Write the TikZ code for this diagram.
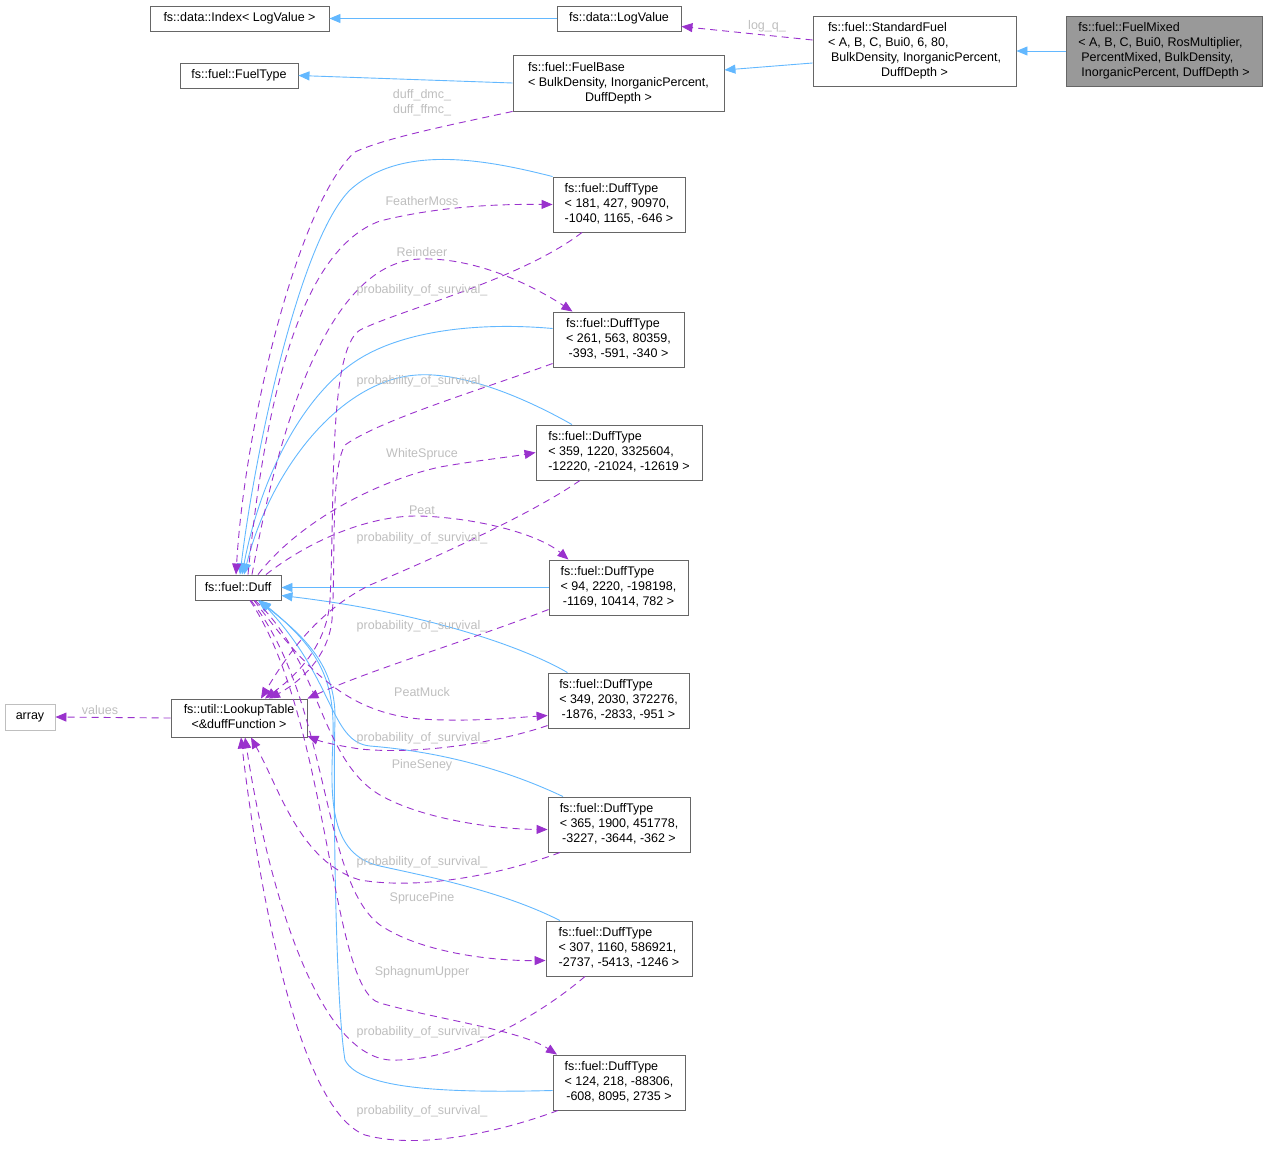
\documentclass[tikz,border=0pt]{standalone}
\usepackage{fontspec}
\setmainfont{Liberation Sans}
\usetikzlibrary{arrows.meta}
\definecolor{inhblue}{RGB}{99,184,255}
\definecolor{mempurple}{RGB}{154,50,205}
\definecolor{boxgray}{RGB}{102,102,102}
\definecolor{lblgray}{RGB}{190,190,190}
\definecolor{fillgray}{RGB}{153,153,153}
\definecolor{extgray}{RGB}{191,191,191}
\newcommand{\ctr}[1]{\multicolumn{1}{@{}c@{}}{#1}}
\tikzset{
	cls/.style = {draw = boxgray, line width = .9pt, fill = white, inner sep = 0pt, font = \fontsize{12.5}{15}\selectfont},
	ext/.style = {cls, draw = extgray},
	inh/.style = {draw = inhblue, line width = .9pt, -{Triangle[length = 11pt, width = 9pt]}},
	mem/.style = {draw = mempurple, line width = .9pt, dash pattern = on 7pt off 5pt, -{Triangle[length = 11pt, width = 9pt]}},
	lbl/.style = {text = lblgray, inner sep = 0pt, font = \fontsize{12.5}{15}\selectfont}
}
\begin{document}
\begin{tikzpicture}[x = 1pt, y = -1pt]
\useasboundingbox (0,0) rectangle (1268,1148);
	% classes
	\node [cls, fill = fillgray, minimum width = 196, minimum height = 70] (mixed) at (1164,51) {\begin{tabular}{@{}l@{}}fs::fuel::FuelMixed\\< A, B, C, Bui0, RosMultiplier,\\\hspace{3pt}PercentMixed, BulkDensity,\\\hspace{3pt}InorganicPercent, DuffDepth >\end{tabular}};
	\node [cls, minimum width = 203, minimum height = 70] (stdfuel) at (914.5,51) {\begin{tabular}{@{}l@{}}fs::fuel::StandardFuel\\< A, B, C, Bui0, 6, 80,\\\hspace{3pt}BulkDensity, InorganicPercent,\\\ctr{DuffDepth >}\end{tabular}};
	\node [cls, minimum width = 211, minimum height = 56] (fuelbase) at (618.5,83) {\begin{tabular}{@{}l@{}}fs::fuel::FuelBase\\< BulkDensity, InorganicPercent,\\\ctr{DuffDepth >}\end{tabular}};
	\node [cls, minimum width = 124, minimum height = 25] (logvalue) at (619,18.5) {fs::data::LogValue};
	\node [cls, minimum width = 179, minimum height = 25] (index) at (239.5,18.5) {fs::data::Index< LogValue >};
	\node [cls, minimum width = 118, minimum height = 25] (fueltype) at (239,75.5) {fs::fuel::FuelType};
	\node [cls, minimum width = 86, minimum height = 25] (duff) at (238,587.5) {fs::fuel::Duff};
	\node [cls, minimum width = 136, minimum height = 38] (lookup) at (239,718) {\begin{tabular}{@{}l@{}}fs::util::LookupTable\\\ctr{<\&duffFunction >}\end{tabular}};
	\node [ext, minimum width = 50, minimum height = 26] (array) at (30,717) {array};
	\node [cls, minimum width = 132, minimum height = 55] (dt1) at (619,204.5) {\begin{tabular}{@{}l@{}}fs::fuel::DuffType\\< 181, 427, 90970,\\-1040, 1165, -646 >\end{tabular}};
	\node [cls, minimum width = 131, minimum height = 55] (dt2) at (618.5,339.5) {\begin{tabular}{@{}l@{}}fs::fuel::DuffType\\< 261, 563, 80359,\\\ctr{-393, -591, -340 >}\end{tabular}};
	\node [cls, minimum width = 166, minimum height = 55] (dt3) at (619,452.5) {\begin{tabular}{@{}l@{}}fs::fuel::DuffType\\< 359, 1220, 3325604,\\\ctr{-12220, -21024, -12619 >}\end{tabular}};
	\node [cls, minimum width = 139, minimum height = 55] (dt4) at (618.5,587.5) {\begin{tabular}{@{}l@{}}fs::fuel::DuffType\\< 94, 2220, -198198,\\\ctr{-1169, 10414, 782 >}\end{tabular}};
	\node [cls, minimum width = 141, minimum height = 55] (dt5) at (618.5,700.5) {\begin{tabular}{@{}l@{}}fs::fuel::DuffType\\< 349, 2030, 372276,\\\ctr{-1876, -2833, -951 >}\end{tabular}};
	\node [cls, minimum width = 142, minimum height = 55] (dt6) at (619,824.5) {\begin{tabular}{@{}l@{}}fs::fuel::DuffType\\< 365, 1900, 451778,\\\ctr{-3227, -3644, -362 >}\end{tabular}};
	\node [cls, minimum width = 146, minimum height = 55] (dt7) at (619,948.5) {\begin{tabular}{@{}l@{}}fs::fuel::DuffType\\< 307, 1160, 586921,\\\ctr{-2737, -5413, -1246 >}\end{tabular}};
	\node [cls, minimum width = 132, minimum height = 55] (dt8) at (619,1082.5) {\begin{tabular}{@{}l@{}}fs::fuel::DuffType\\< 124, 218, -88306,\\\ctr{-608, 8095, 2735 >}\end{tabular}};
	% inheritance
	\draw [inh] (logvalue.west) -- (index.east);
	\draw [inh] (fuelbase.west) -- (fueltype.east);
	\draw [inh] ([yshift = -12pt]stdfuel.west) -- ([yshift = 13pt]fuelbase.east);
	\draw [inh] (mixed.west) -- (stdfuel.east);
	\draw [inh] (dt1.north west) .. controls (480,158) and (400,145) .. (350,190) .. controls (300,240) and (255,450) .. ([xshift = 2pt]duff.north);
	\draw [inh] ([yshift = 11pt]dt2.west) .. controls (480,322) and (400,330) .. (353,363) .. controls (300,400) and (260,480) .. ([xshift = 4pt]duff.north);
	\draw [inh] ([xshift = -47pt]dt3.north) .. controls (520,395) and (460,372) .. (417,375) .. controls (340,380) and (270,470) .. ([xshift = 6pt]duff.north);
	\draw [inh] (dt4.west) -- (duff.east);
	\draw [inh] ([xshift = -51pt]dt5.north) .. controls (520,645) and (420,612) .. ([yshift = -8pt]duff.east);
	\draw [inh] ([xshift = -56pt]dt6.north) .. controls (490,762) and (420,750) .. (370,746) .. controls (330,742) and (335,680) .. ([xshift = 22pt]duff.south);
	\draw [inh] ([xshift = -59pt]dt7.north) .. controls (500,890) and (420,875) .. (380,866) .. controls (330,855) and (330,800) .. (333,740) .. controls (335,680) and (320,650) .. ([xshift = 22pt]duff.south);
	\draw [inh] ([yshift = -8pt]dt8.west) .. controls (450,1093) and (360,1090) .. (345,1060) .. controls (335,1000) and (333,780) .. (335,720) .. controls (336,670) and (310,640) .. ([xshift = 20pt]duff.south);
	% members
	\draw [mem] ([yshift = 11pt]stdfuel.west) -- ([yshift = -8pt]logvalue.east);
	\draw [mem] (fuelbase.south west) .. controls (450,125) and (385,138) .. (355,152) .. controls (300,200) and (245,420) .. ([xshift = -2pt]duff.north);
	\draw [mem] ([xshift = 10pt]duff.north) .. controls (265,400) and (300,250) .. (380,221) .. controls (440,206) and (500,204) .. (dt1.west);
	\draw [mem] ([xshift = 14pt]duff.north) .. controls (280,420) and (330,262) .. (420,259) .. controls (480,257) and (540,290) .. ([xshift = -46pt]dt2.north);
	\draw [mem] ([xshift = -37pt]dt1.south) .. controls (520,280) and (400,310) .. (360,330) .. controls (328,350) and (335,500) .. (330,600) .. controls (327,650) and (290,680) .. ([xshift = 26pt]lookup.north);
	\draw [mem] ([yshift = -24pt]dt2.west) .. controls (480,390) and (380,420) .. (345,445) .. controls (330,470) and (336,560) .. (332,620) .. controls (328,660) and (295,685) .. ([xshift = 30pt]lookup.north);
	\draw [mem] ([xshift = 20pt]duff.north) .. controls (300,520) and (380,480) .. (440,467) .. controls (480,460) and (510,457) .. (dt3.west);
	\draw [mem] ([xshift = -39pt]dt3.south) .. controls (530,515) and (430,560) .. (370,585) .. controls (320,610) and (290,650) .. ([xshift = 22pt]lookup.north);
	\draw [mem] ([xshift = 28pt]duff.north) .. controls (310,540) and (370,515) .. (420,516) .. controls (480,518) and (540,535) .. ([xshift = -50pt]dt4.north);
	\draw [mem] ([yshift = -22pt]dt4.west) .. controls (470,640) and (370,670) .. (lookup.north east);
	\draw [mem] ([xshift = 16pt]duff.south) .. controls (300,660) and (340,712) .. (420,719) .. controls (470,722) and (510,718) .. ([yshift = -15pt]dt5.west);
	\draw [mem] ([yshift = -25pt]dt5.west) .. controls (500,742) and (420,755) .. (360,749) .. controls (340,746) and (322,742) .. ([yshift = -18pt]lookup.east);
	\draw [mem] ([xshift = 17pt]duff.south) .. controls (320,660) and (320,760) .. (380,795) .. controls (420,818) and (490,829) .. ([yshift = -5pt]dt6.west);
	\draw [mem] ([xshift = -59pt]dt6.south) .. controls (500,875) and (420,890) .. (360,880) .. controls (300,862) and (280,790) .. ([xshift = 12pt]lookup.south);
	\draw [mem] ([xshift = 13pt]duff.south) .. controls (330,700) and (320,880) .. (380,925) .. controls (420,952) and (490,961) .. ([yshift = -12pt]dt7.west);
	\draw [mem] ([xshift = -34pt]dt7.south) .. controls (540,1015) and (460,1062) .. (390,1060) .. controls (320,1055) and (270,900) .. ([xshift = 6pt]lookup.south);
	\draw [mem] ([xshift = 12pt]duff.south) .. controls (330,720) and (330,990) .. (380,1003) .. controls (440,1020) and (520,1030) .. ([xshift = -62pt]dt8.north);
	\draw [mem] ([xshift = -61pt]dt8.south) .. controls (500,1132) and (420,1150) .. (365,1135) .. controls (300,1110) and (260,900) .. ([xshift = 2pt]lookup.south);
	\draw [mem] (lookup.west) -- (array.east);
	% labels
	\node [lbl] (lq) at (767,26) {log\_q\_};
	\node [lbl, align = center] (ldmc) at (422,103) {duff\_dmc\_\\duff\_ffmc\_};
	\node [lbl] (lfm) at (422,201) {FeatherMoss};
	\node [lbl] (lrd) at (422,252) {Reindeer};
	\node [lbl] (lp1) at (422,290) {probability\_of\_survival\_};
	\node [lbl] (lp2) at (422,381) {probability\_of\_survival\_};
	\node [lbl] (lws) at (422,454) {WhiteSpruce};
	\node [lbl] (lpt) at (422,510) {Peat};
	\node [lbl] (lp3) at (422,538) {probability\_of\_survival\_};
	\node [lbl] (lp4) at (422,626) {probability\_of\_survival\_};
	\node [lbl] (lpm) at (422,692) {PeatMuck};
	\node [lbl] (lp5) at (422,738) {probability\_of\_survival\_};
	\node [lbl] (lps) at (422,765) {PineSeney};
	\node [lbl] (lp6) at (422,862) {probability\_of\_survival\_};
	\node [lbl] (lsp) at (422,898) {SprucePine};
	\node [lbl] (lsu) at (422,972) {SphagnumUpper};
	\node [lbl] (lp7) at (422,1032) {probability\_of\_survival\_};
	\node [lbl] (lp8) at (422,1111) {probability\_of\_survival\_};
	\node [lbl] (lval) at (100,710) {values};
\end{tikzpicture}
\end{document}
